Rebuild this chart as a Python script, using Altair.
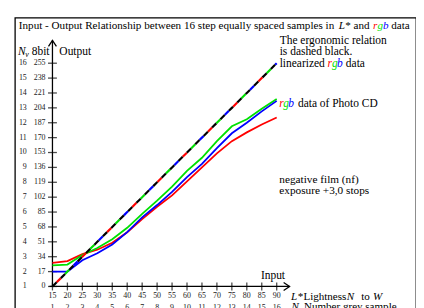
import altair as alt
import pandas as pd

# ---------------- data ----------------
L_STAR = [15, 20, 25, 30, 35, 40, 45, 50, 55, 60, 65, 70, 75, 80, 85, 90]
N_GREY = [1, 2, 3, 4, 5, 6, 7, 8, 9, 10, 11, 12, 13, 14, 15, 16]
OUT_8BIT = [0, 17, 34, 51, 68, 85, 102, 119, 136, 153, 170, 187, 204, 221, 238, 255]
LINEAR = [0, 17, 34, 51, 68, 85, 102, 119, 136, 153, 170, 187, 204, 221, 238, 255]
PCD_RED = [27, 29, 37, 42, 50, 62, 77, 91, 104, 120, 136, 152, 166, 176, 185, 193]
PCD_GREEN = [24, 25, 36, 44, 54, 67, 83, 98, 114, 132, 147, 166, 183, 191, 203, 214]
PCD_BLUE = [17, 17, 30, 38, 48, 62, 79, 93, 108, 125, 140, 158, 175, 187, 200, 212]

FONT = "Liberation Serif"
RED, GREEN, BLUE = "#ff0000", "#00e000", "#0000ff"

W, H = 406, 300
xs = alt.Scale(domain=[2.445, 136.586], nice=False, zero=False)
ys = alt.Scale(domain=[-31.59, 306.90], nice=False, zero=False)
X = alt.X("L:Q", scale=xs, axis=None)
Y = alt.Y("v:Q", scale=ys, axis=None)

one = pd.DataFrame({"a": [0]})


def label(s, px, py, color="black", italic=False, size=11.6, align="left"):
    return alt.Chart(one).mark_text(
        text=s, align=align, baseline="middle", font=FONT, fontSize=size,
        fontStyle="italic" if italic else "normal", color=color
    ).encode(x=alt.value(px - 15), y=alt.value(py - 16))


layers = []

# axes lines
ax_x = pd.DataFrame({"L": [14, 94.3], "v": [0, 0]})
ax_y = pd.DataFrame({"L": [15, 15], "v": [0, 281]})
layers.append(alt.Chart(ax_x).mark_line(color="black", strokeWidth=1.3).encode(x=X, y=Y))
layers.append(alt.Chart(ax_y).mark_line(color="black", strokeWidth=1.3).encode(x=X, y=Y))

# arrow heads
layers.append(alt.Chart(pd.DataFrame({"L": [94.3], "v": [0]})).mark_point(
    shape="M-1.5,-1L0,0L-1.5,1", size=64, filled=False, color="black", strokeWidth=1.3, opacity=1
).encode(x=X, y=Y))
layers.append(alt.Chart(pd.DataFrame({"L": [15], "v": [281]})).mark_point(
    shape="M-1,1.5L0,0L1,1.5", size=64, filled=False, color="black", strokeWidth=1.3, opacity=1
).encode(x=X, y=Y))

# ticks
xt = pd.DataFrame({"L": L_STAR, "N": N_GREY, "v": [0] * 16})
yt = pd.DataFrame({"v": OUT_8BIT, "N": N_GREY, "L": [15] * 16})
layers.append(alt.Chart(xt).mark_tick(orient="vertical", size=8, thickness=1.3, color="black").encode(x=X, y=Y))
layers.append(alt.Chart(yt).mark_tick(orient="horizontal", size=9, thickness=1.3, color="black").encode(x=X, y=Y))

# data lines
df = pd.DataFrame({"L": L_STAR, "lin": LINEAR, "r": PCD_RED, "g": PCD_GREEN, "b": PCD_BLUE})
for col, c in [("r", RED), ("g", GREEN), ("b", BLUE)]:
    layers.append(alt.Chart(df).mark_line(color=c, strokeWidth=1.8).encode(
        x=X, y=alt.Y(f"{col}:Q", scale=ys, axis=None)))

# linearized rgb data (dashed colours + dashed black)
ylin = alt.Y("lin:Q", scale=ys, axis=None)
for c, off in [(RED, 30), (GREEN, 18), (BLUE, 6)]:
    layers.append(alt.Chart(df).mark_line(color=c, strokeWidth=2.2, strokeDash=[6, 30],
                                          strokeDashOffset=off).encode(x=X, y=ylin))
layers.append(alt.Chart(df).mark_line(color="black", strokeWidth=2.2, strokeDash=[6, 6]).encode(x=X, y=ylin))

# tick labels
tl = dict(font=FONT, fontSize=8, baseline="middle", color="#222")
layers.append(alt.Chart(xt).mark_text(align="center", **tl).encode(
    x=X, y=alt.value(297.5 - 16), text="L:Q"))
layers.append(alt.Chart(xt).mark_text(align="center", **tl).encode(
    x=X, y=alt.value(310 - 16), text="N:Q"))
layers.append(alt.Chart(yt).mark_text(align="right", **tl).encode(
    x=alt.value(46 - 15), y=Y, text="v:Q"))
layers.append(alt.Chart(yt).mark_text(align="right", **tl).encode(
    x=alt.value(27 - 15), y=Y, text="N:Q"))

# title
ty = 24.7
ts = 11.25
layers += [
    label("Input - Output Relationship between 16 step equally spaced samples in", 19, ty, size=ts),
    label("L*", 342.7, ty, italic=True, size=ts),
    label("and", 357.7, ty, size=ts),
    label("r", 377.5, ty, RED, True, size=ts),
    label("g", 382, ty, GREEN, True, size=ts),
    label("b", 387.5, ty, BLUE, True, size=ts),
    label("data", 396, ty, size=ts),
]

# axis titles
bs = 11.2
layers += [
    label("N", 18, 50.7, italic=True),
    label("v", 25.5, 53.5, italic=True, size=8),
    label("8bit", 32, 50.7),
    label("Output", 60, 50.7),
    label("Input", 264, 277.3),
    label("L*", 294.5, 298.3, italic=True, size=bs),
    label("Lightness", 307, 298.3, size=bs),
    label("N", 351, 298.3, italic=True, size=bs),
    label("to", 365.5, 298.3, size=bs),
    label("W", 377.5, 298.3, italic=True, size=bs),
    label("N", 295, 309, italic=True, size=bs),
    label(",  Number grey sample", 302, 309, size=bs),
]

# annotations
layers += [
    label("The ergonomic relation", 283, 39.5),
    label("is dashed black.", 283, 51),
    label("linearized", 283, 62.7),
    label("r", 331.5, 62.7, RED, True),
    label("g", 336, 62.7, GREEN, True),
    label("b", 341, 62.7, BLUE, True),
    label("data", 350, 62.7),
    label("r", 282.7, 103.3, RED, True),
    label("g", 286.7, 103.3, GREEN, True),
    label("b", 291.7, 103.3, BLUE, True),
    label("data of Photo CD", 301.5, 103.3),
    label("negative film (nf)", 282.7, 180, size=11.4),
    label("exposure +3,0 stops", 282.7, 191, size=11.4),
]

chart = alt.layer(*layers).properties(
    width=W, height=H,
    autosize=alt.AutoSizeParams(type="none"),
    padding={"left": 7, "top": 8, "right": 0, "bottom": 0},
    background="white",
).configure_view(stroke="black", strokeWidth=1.3)

chart.save("out.html", embed_options={"renderer": "svg", "actions": False})
